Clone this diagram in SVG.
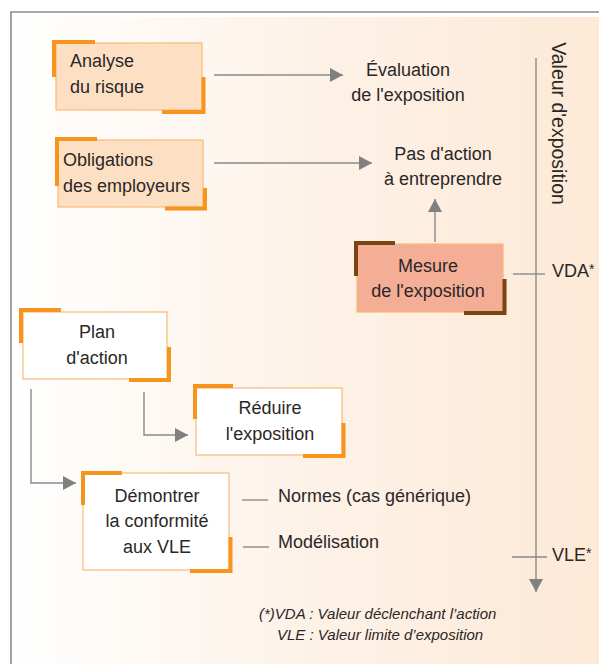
<svg xmlns="http://www.w3.org/2000/svg" width="599" height="664" viewBox="0 0 599 664">
<defs>
<linearGradient id="bg" x1="12" y1="0" x2="599" y2="0" gradientUnits="userSpaceOnUse">
<stop offset="0" stop-color="#ffffff"/>
<stop offset="0.5" stop-color="#fdf2e8"/>
<stop offset="1" stop-color="#fde9d6"/>
</linearGradient>
<marker id="ah" markerWidth="13" markerHeight="14" refX="13" refY="7" orient="auto" markerUnits="userSpaceOnUse">
<path d="M0,0 L13,7 L0,14 Z" fill="#808080"/>
</marker>
<style>
.t{font-family:"Liberation Sans",Arial,sans-serif;font-size:18px;fill:#2b2727}
.c{text-anchor:middle}
.lg{font-family:"Liberation Sans",Arial,sans-serif;font-size:15px;font-style:italic;fill:#2b2727}
.cn{fill:none;stroke:#8a8a8a;stroke-width:1.4}
.bx{stroke:#f9b977;stroke-width:1.2}
.peach{fill:#fde0c4}
.white{fill:#ffffff}
.acc{fill:none;stroke:#f7941d;stroke-width:4}
.accd{fill:none;stroke:#7a4312;stroke-width:4}
</style>
</defs>
<rect x="0" y="0" width="599" height="664" fill="#ffffff"/>
<rect x="12" y="17" width="587" height="647" fill="url(#bg)"/>
<path d="M11,664 V12 H599" fill="none" stroke="#8c8c8c" stroke-width="1.6"/>

<g id="connectors">
<path class="cn" d="M214,75 H343" marker-end="url(#ah)"/>
<path class="cn" d="M214,163 H372" marker-end="url(#ah)"/>
<path class="cn" d="M435,242 V199" marker-end="url(#ah)"/>
<path class="cn" d="M144,392 V435 H188" marker-end="url(#ah)"/>
<path class="cn" d="M31,389 V483 H76" marker-end="url(#ah)"/>
<path class="cn" d="M242,500 H268"/>
<path class="cn" d="M243,547 H269"/>
</g>

<g id="axis">
<path class="cn" d="M536,58 V592" marker-end="url(#ah)"/>
<path class="cn" d="M513,274 H545"/>
<path class="cn" d="M512,557 H547"/>
<text class="t" transform="translate(552,123.5) rotate(90)" text-anchor="middle" style="font-size:19.5px">Valeur d'exposition</text>
<text class="t" x="552" y="277">VDA<tspan style="font-size:14px" dy="-3">*</tspan></text>
<text class="t" x="552" y="561">VLE<tspan style="font-size:14px" dy="-3">*</tspan></text>
</g>

<g id="analyse">
<rect class="bx peach" x="56" y="43" width="146" height="67"/>
<path class="acc" d="M54,77 V42 H95"/>
<path class="acc" d="M203.5,77 V112 H162"/>
<text class="t" x="70" y="67">Analyse</text>
<text class="t" x="70" y="93">du risque</text>
</g>

<g id="obligations">
<rect class="bx peach" x="58" y="140" width="145" height="67"/>
<path class="acc" d="M57,186 V139 H97"/>
<path class="acc" d="M205,188 V208.5 H165"/>
<text class="t" x="63" y="166">Obligations</text>
<text class="t" x="63" y="192">des employeurs</text>
</g>

<g id="evaluation">
<text class="t c" x="408" y="76">Évaluation</text>
<text class="t c" x="408" y="101">de l'exposition</text>
</g>

<g id="pasaction">
<text class="t c" x="443" y="160">Pas d'action</text>
<text class="t c" x="443" y="185">à entreprendre</text>
</g>

<g id="mesure">
<rect class="bx" x="357" y="244" width="146" height="68" fill="#f4ae96" stroke="#f9a050"/>
<path class="accd" d="M356,276 V243 H395"/>
<path class="accd" d="M504.5,279 V313 H464"/>
<text class="t c" x="428" y="272">Mesure</text>
<text class="t c" x="428" y="297">de l'exposition</text>
</g>

<g id="plan">
<rect class="bx white" x="23" y="312" width="144" height="67"/>
<path class="acc" d="M21,343 V310 H61"/>
<path class="acc" d="M169,347 V380 H129"/>
<text class="t c" x="97" y="338">Plan</text>
<text class="t c" x="97" y="364">d'action</text>
</g>

<g id="reduire">
<rect class="bx white" x="196" y="388" width="146" height="67"/>
<path class="acc" d="M195,419 V386 H233"/>
<path class="acc" d="M343.5,423 V456 H303"/>
<text class="t c" x="270" y="414">Réduire</text>
<text class="t c" x="270" y="440">l'exposition</text>
</g>

<g id="demontrer">
<rect class="bx white" x="83" y="473" width="146" height="97"/>
<path class="acc" d="M83,505 V473 H122"/>
<path class="acc" d="M230.5,537 V571 H190"/>
<text class="t c" x="157" y="502">Démontrer</text>
<text class="t c" x="157" y="527">la conformité</text>
<text class="t c" x="157" y="553">aux VLE</text>
</g>

<g id="normes">
<text class="t" x="278" y="502">Normes (cas générique)</text>
</g>
<g id="modelisation">
<text class="t" x="278" y="548">Modélisation</text>
</g>

<g id="legend">
<text class="lg" x="259" y="619">(*)VDA : Valeur déclenchant l’action</text>
<text class="lg" x="277" y="640">VLE : Valeur limite d’exposition</text>
</g>
</svg>
